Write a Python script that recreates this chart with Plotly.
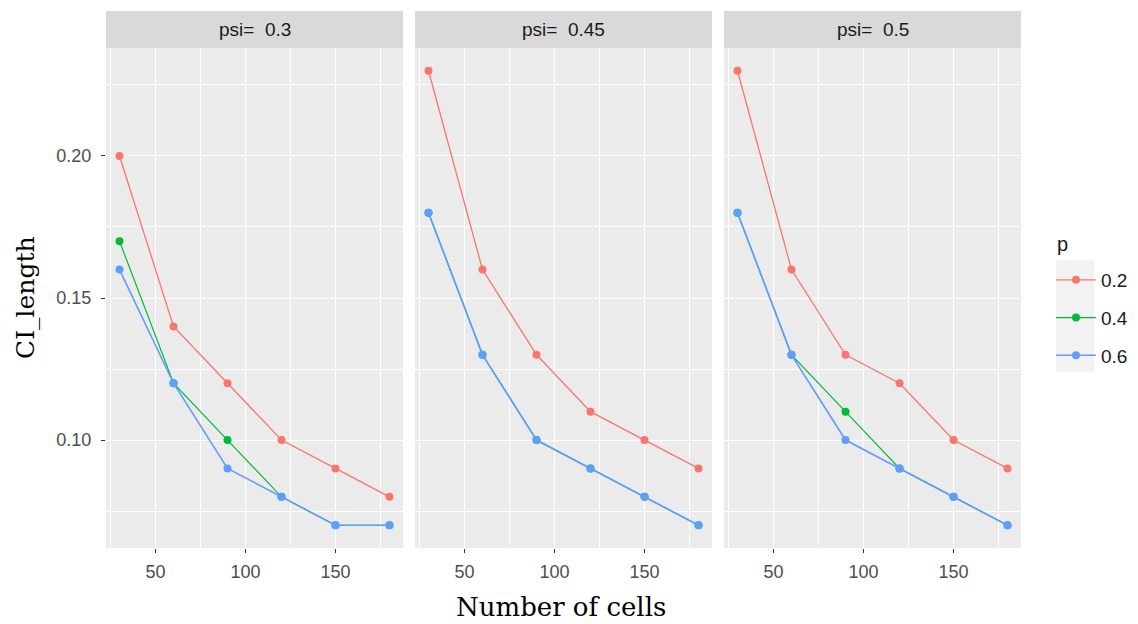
import plotly.graph_objects as go

W, H = 1138, 624

cells = [30, 60, 90, 120, 150, 180]
psi_labels = ["psi=  0.3", "psi=  0.45", "psi=  0.5"]
p_labels = ["0.2", "0.4", "0.6"]

# CI_length per psi panel, per p
psi03_p02 = [0.20, 0.14, 0.12, 0.10, 0.09, 0.08]
psi03_p04 = [0.17, 0.12, 0.10, 0.08, 0.07, 0.07]
psi03_p06 = [0.16, 0.12, 0.09, 0.08, 0.07, 0.07]

psi045_p02 = [0.23, 0.16, 0.13, 0.11, 0.10, 0.09]
psi045_p04 = [0.18, 0.13, 0.10, 0.09, 0.08, 0.07]
psi045_p06 = [0.18, 0.13, 0.10, 0.09, 0.08, 0.07]

psi05_p02 = [0.23, 0.16, 0.13, 0.12, 0.10, 0.09]
psi05_p04 = [0.18, 0.13, 0.11, 0.09, 0.08, 0.07]
psi05_p06 = [0.18, 0.13, 0.10, 0.09, 0.08, 0.07]

panels = [
    [psi03_p02, psi03_p04, psi03_p06],
    [psi045_p02, psi045_p04, psi045_p06],
    [psi05_p02, psi05_p04, psi05_p06],
]
colors = ["#F8766D", "#00BA38", "#619CFF"]
widths = [1.3, 1.2, 1.6]

# panel pixel geometry
px_left = [106, 415, 724]
px_w = 297
top_px, bot_px = 48, 548
strip_top_px = 11

def fx(px):
    return px / W

def fy(py):
    return 1 - py / H

fig = go.Figure()

for i, series in enumerate(panels):
    ax = "" if i == 0 else str(i + 1)
    for j, vals in enumerate(series):
        fig.add_trace(go.Scatter(
            x=cells, y=vals, mode="lines+markers",
            name=p_labels[j], legendgroup=p_labels[j],
            showlegend=(i == 0),
            line=dict(color=colors[j], width=widths[j]),
            marker=dict(color=colors[j], size=8),
            xaxis="x" + ax, yaxis="y" + ax,
        ))

tickfont = dict(family="Liberation Sans, Arial", size=18, color="#4D4D4D")
layout = dict(
    width=W, height=H,
    margin=dict(l=0, r=0, t=0, b=0),
    paper_bgcolor="white",
    plot_bgcolor="#EBEBEB",
    font=dict(family="Liberation Sans, Arial"),
    showlegend=True,
    legend=dict(
        x=fx(1051), y=fy(261), xanchor="left", yanchor="top",
        bgcolor="rgba(0,0,0,0)",
        font=dict(size=19, color="#1A1A1A"),
        tracegroupgap=10, itemwidth=40,
        traceorder="grouped",
    ),
)

shapes = []
annotations = []
for i in range(3):
    ax = "" if i == 0 else str(i + 1)
    x0, x1 = px_left[i], px_left[i] + px_w
    layout["xaxis" + ax] = dict(
        domain=[fx(x0), fx(x1)], anchor="y" + ax,
        range=[22.5, 187.5], tickvals=[50, 100, 150],
        ticks="outside", ticklen=4, tickcolor="#333333", tickwidth=1,
        ticklabelstandoff=3,
        tickfont=tickfont, showgrid=True, gridcolor="white", gridwidth=1.2,
        zeroline=False, showline=False,
        minor=dict(tickvals=[25, 75, 125, 175], showgrid=True,
                   gridcolor="white", gridwidth=0.6, ticks=""),
    )
    layout["yaxis" + ax] = dict(
        domain=[fy(bot_px), fy(top_px)], anchor="x" + ax,
        range=[0.062, 0.238], tickvals=[0.10, 0.15, 0.20],
        ticktext=["0.10", "0.15", "0.20"],
        ticks="outside" if i == 0 else "", ticklen=4, tickcolor="#333333",
        ticklabelstandoff=6,
        showticklabels=(i == 0),
        tickfont=tickfont, showgrid=True, gridcolor="white", gridwidth=1.2,
        zeroline=False, showline=False,
        minor=dict(tickvals=[0.075, 0.125, 0.175, 0.225], showgrid=True,
                   gridcolor="white", gridwidth=0.6, ticks=""),
    )
    if i > 0:
        layout["yaxis" + ax]["matches"] = "y"
    shapes.append(dict(type="rect", xref="paper", yref="paper",
                       x0=fx(x0), x1=fx(x1), y0=fy(top_px), y1=fy(strip_top_px),
                       fillcolor="#D9D9D9", line=dict(width=0), layer="below"))
    annotations.append(dict(text=psi_labels[i], xref="paper", yref="paper",
                            x=fx((x0 + x1) / 2), y=fy((top_px + strip_top_px) / 2),
                            xanchor="center", yanchor="middle", showarrow=False,
                            font=dict(size=19, color="#1A1A1A",
                                      family="Liberation Sans, Arial")))

# legend key background
shapes.append(dict(type="rect", xref="paper", yref="paper",
                   x0=fx(1056), x1=fx(1094), y0=fy(372), y1=fy(260),
                   fillcolor="#F2F2F2", line=dict(width=0), layer="below"))
# legend title
annotations.append(dict(text="p", xref="paper", yref="paper",
                        x=fx(1055), y=fy(244), xanchor="left", yanchor="middle",
                        showarrow=False,
                        font=dict(size=20, color="#1A1A1A",
                                  family="Liberation Sans, Arial")))

annotations.append(dict(text="Number of cells", xref="paper", yref="paper",
                        x=fx(561), y=fy(607), xanchor="center", yanchor="middle",
                        showarrow=False,
                        font=dict(size=26, color="black", family="DejaVu Serif")))
annotations.append(dict(text="CI_length", xref="paper", yref="paper",
                        x=fx(25), y=fy(298), xanchor="center", yanchor="middle",
                        showarrow=False, textangle=-90,
                        font=dict(size=25, color="black", family="DejaVu Serif")))

layout["shapes"] = shapes
layout["annotations"] = annotations
fig.update_layout(**layout)

fig.write_html("out.html")
